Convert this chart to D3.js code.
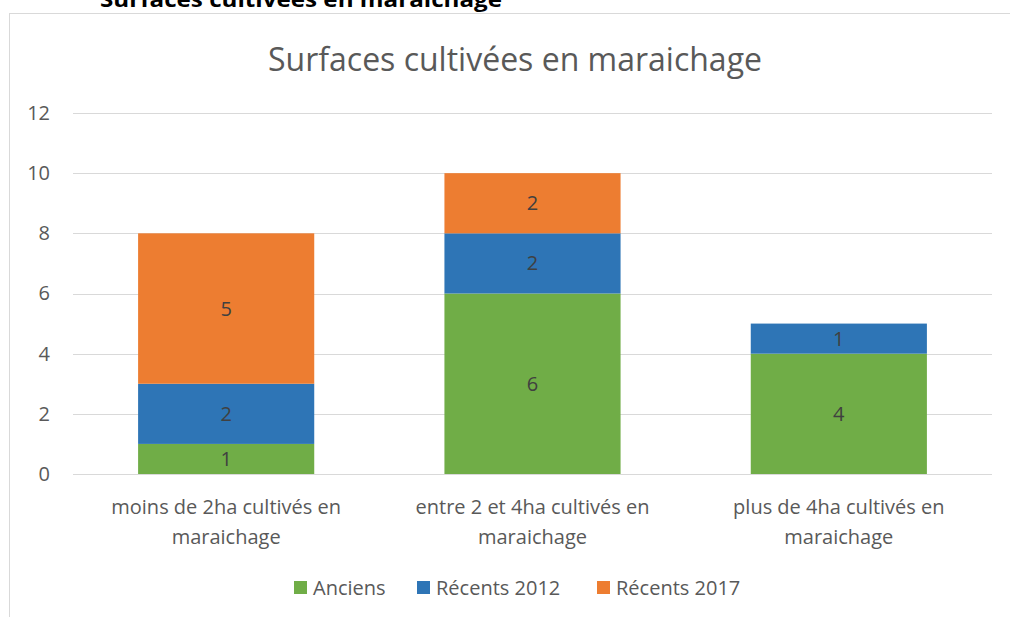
<!DOCTYPE html>
<html>
<head>
<meta charset="utf-8">
<script src="https://cdn.jsdelivr.net/npm/d3@7"></script>
<style>
  body { margin: 0; background: #fff; }
  text { font-family: "Open Sans", Lato, sans-serif; }
</style>
</head>
<body>
<div id="chart"></div>
<script>
// data
var categories = [
  ["moins de 2ha cultivés en", "maraichage"],
  ["entre 2 et 4ha cultivés en", "maraichage"],
  ["plus de 4ha cultivés en", "maraichage"]
];
var seriesNames = ["Anciens", "Récents 2012", "Récents 2017"];
var anciens = [1, 6, 4];
var recents2012 = [2, 2, 1];
var recents2017 = [5, 2, 0];
var yTicks = [0, 2, 4, 6, 8, 10, 12];
var colors = ["#70AD47", "#2E75B6", "#ED7D31"];

var W = 1010, H = 617;
var margin = { top: 113, left: 73, bottom: 143, right: 18 };
var width = W - margin.left - margin.right,
    height = H - margin.top - margin.bottom;
var fs = "20px";

var svg = d3.select("#chart").append("svg")
    .attr("width", W)
    .attr("height", H);

// outer frame
svg.append("rect")
    .attr("x", 9.5).attr("y", 13.5)
    .attr("width", 1010).attr("height", 620)
    .attr("fill", "none")
    .attr("stroke", "#d9d9d9");

// heading above the chart, cut by the top edge as in the source
svg.append("text")
    .attr("x", 100).attr("y", 7)
    .attr("textLength", 402)
    .attr("lengthAdjust", "spacingAndGlyphs")
    .style("font-size", "21px")
    .style("font-weight", "bold")
    .attr("fill", "#000")
    .text("Surfaces cultivées en maraichage");

svg.append("text")
    .attr("x", 515).attr("y", 71)
    .attr("text-anchor", "middle")
    .style("font-size", "32px")
    .attr("fill", "#595959")
    .text("Surfaces cultivées en maraichage");

var g = svg.append("g")
    .attr("transform", "translate(" + margin.left + "," + margin.top + ")");

var x = d3.scaleBand()
    .domain(d3.range(categories.length))
    .range([0, width])
    .paddingInner(0.425)
    .paddingOuter(0.2125);

var y = d3.scaleLinear()
    .domain([0, 12])
    .range([height, 0]);

// gridlines
g.selectAll(".grid")
    .data(yTicks)
    .enter().append("line")
    .attr("x1", 0).attr("x2", width)
    .attr("y1", function (d) { return Math.round(y(d)) + 0.5; })
    .attr("y2", function (d) { return Math.round(y(d)) + 0.5; })
    .attr("stroke", "#d9d9d9")
    .attr("stroke-width", 1);

var yAxis = d3.axisLeft(y).tickValues(yTicks).tickSize(0).tickPadding(23);
g.append("g")
    .attr("class", "axis y")
    .call(yAxis)
    .call(function (s) { s.select(".domain").remove(); })
    .selectAll("text")
    .style("font-size", fs)
    .style("font-family", "'Open Sans', sans-serif")
    .attr("fill", "#595959");

var table = categories.map(function (c, i) {
    return { i: i, a: anciens[i], b: recents2012[i], c: recents2017[i] };
});
var stack = d3.stack().keys(["a", "b", "c"]);
var layers = stack(table);

var layer = g.selectAll(".layer")
    .data(layers)
    .enter().append("g")
    .attr("fill", function (d, i) { return colors[i]; });

layer.selectAll("rect")
    .data(function (d) { return d.filter(function (v) { return v[1] - v[0] > 0; }); })
    .enter().append("rect")
    .attr("x", function (d) { return x(d.data.i); })
    .attr("width", x.bandwidth())
    .attr("y", function (d) { return y(d[1]); })
    .attr("height", function (d) { return y(d[0]) - y(d[1]); });

layer.selectAll("text")
    .data(function (d) { return d.filter(function (v) { return v[1] - v[0] > 0; }); })
    .enter().append("text")
    .attr("x", function (d) { return x(d.data.i) + x.bandwidth() / 2; })
    .attr("y", function (d) { return (y(d[0]) + y(d[1])) / 2; })
    .attr("dy", "0.35em")
    .attr("text-anchor", "middle")
    .style("font-size", fs)
    .attr("fill", "#404040")
    .text(function (d) { return d[1] - d[0]; });

// category labels
var cat = g.selectAll(".cat")
    .data(categories)
    .enter().append("text")
    .attr("text-anchor", "middle")
    .attr("x", function (d, i) { return x(i) + x.bandwidth() / 2; })
    .attr("y", height + 40)
    .style("font-size", fs)
    .attr("fill", "#595959");
cat.selectAll("tspan")
    .data(function (d) { return d; })
    .enter().append("tspan")
    .attr("x", function () { return d3.select(this.parentNode).attr("x"); })
    .attr("dy", function (d, i) { return i === 0 ? 0 : 30; })
    .text(function (d) { return d; });

// legend
var legendX = [294, 417, 597];
var legend = svg.selectAll(".legend")
    .data(seriesNames)
    .enter().append("g")
    .attr("transform", function (d, i) { return "translate(" + legendX[i] + ",581)"; });
legend.append("rect")
    .attr("width", 13).attr("height", 13)
    .attr("fill", function (d, i) { return colors[i]; });
legend.append("text")
    .attr("x", 19).attr("y", 7)
    .attr("dy", "0.35em")
    .style("font-size", fs)
    .attr("fill", "#595959")
    .text(function (d) { return d; });
</script>
</body>
</html>
